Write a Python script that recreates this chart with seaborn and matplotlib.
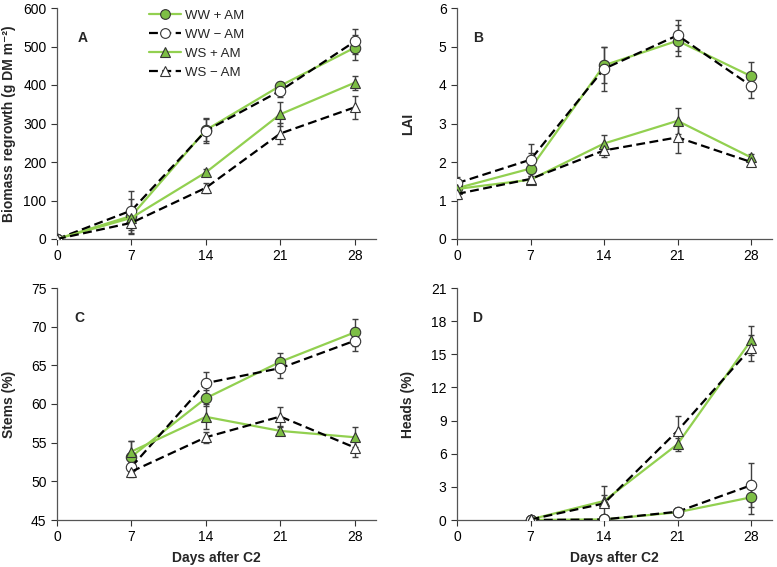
import numpy as np
import pandas as pd
import matplotlib
matplotlib.use("Agg")
import matplotlib.pyplot as plt
import seaborn as sns
from matplotlib.lines import Line2D

sns.set_style("ticks")
plt.rcParams['font.family'] = ['Liberation Sans', 'DejaVu Sans']

series_names = ["WW + AM", "WW \u2212 AM", "WS + AM", "WS \u2212 AM"]

days_ab = [0, 7, 14, 21, 28]
days_cd = [7, 14, 21, 28]

# Panel A: biomass regrowth
biomass = {
    "WW + AM": [0, 60, 283, 398, 497],
    "WW \u2212 AM": [0, 74, 281, 385, 513],
    "WS + AM": [0, 55, 173, 324, 406],
    "WS \u2212 AM": [0, 42, 133, 274, 342],
}
biomass_err = {
    "WW + AM": [3, 45, 28, 10, 33],
    "WW \u2212 AM": [3, 50, 32, 15, 32],
    "WS + AM": [3, 12, 10, 31, 18],
    "WS \u2212 AM": [3, 28, 13, 27, 30],
}
# Panel B: LAI
lai = {
    "WW + AM": [1.32, 1.83, 4.51, 5.15, 4.23],
    "WW \u2212 AM": [1.45, 2.06, 4.42, 5.29, 3.98],
    "WS + AM": [1.30, 1.54, 2.48, 3.07, 2.12],
    "WS \u2212 AM": [1.17, 1.56, 2.30, 2.64, 2.00],
}
lai_err = {
    "WW + AM": [0.10, 0.40, 0.47, 0.40, 0.38],
    "WW \u2212 AM": [0.15, 0.42, 0.57, 0.40, 0.33],
    "WS + AM": [0.10, 0.08, 0.22, 0.33, 0.08],
    "WS \u2212 AM": [0.12, 0.08, 0.18, 0.40, 0.08],
}
# Panel C: stems
stems = {
    "WW + AM": [53.2, 60.75, 65.46, 69.26],
    "WW \u2212 AM": [51.86, 62.7, 64.64, 68.18],
    "WS + AM": [53.85, 58.34, 56.52, 55.7],
    "WS \u2212 AM": [51.26, 55.7, 58.38, 54.37],
}
stems_err = {
    "WW + AM": [2.0, 1.0, 1.1, 1.7],
    "WW \u2212 AM": [1.0, 1.4, 1.3, 1.3],
    "WS + AM": [1.4, 1.6, 0.5, 1.3],
    "WS \u2212 AM": [0.7, 0.7, 1.2, 1.2],
}
# Panel D: heads
heads = {
    "WW + AM": [0.0, 0.05, 0.70, 2.05],
    "WW \u2212 AM": [0.0, 0.05, 0.75, 3.14],
    "WS + AM": [0.05, 1.72, 6.86, 16.25],
    "WS \u2212 AM": [0.05, 1.50, 8.07, 15.56],
}
heads_err = {
    "WW + AM": [0.1, 0.1, 0.3, 1.5],
    "WW \u2212 AM": [0.1, 0.1, 0.3, 2.0],
    "WS + AM": [0.3, 0.5, 0.6, 1.35],
    "WS \u2212 AM": [0.3, 1.6, 1.3, 1.2],
}

LINE_GREEN = "#92D050"
FILL_GREEN = "#7DBE45"
styles = {
    "WW + AM": dict(color=LINE_GREEN, marker="o", mfc=FILL_GREEN, ls="-"),
    "WW \u2212 AM": dict(color="black", marker="o", mfc="white", ls="--"),
    "WS + AM": dict(color=LINE_GREEN, marker="^", mfc=FILL_GREEN, ls="-"),
    "WS \u2212 AM": dict(color="black", marker="^", mfc="white", ls="--"),
}

fig = plt.figure(figsize=(7.77, 5.67), dpi=100)
W, H = 777, 567
def rect(l, r, t, b):
    return [l / W, 1 - b / H, (r - l) / W, (b - t) / H]

axA = fig.add_axes(rect(57, 376, 8, 239))
axB = fig.add_axes(rect(457, 772, 8, 239))
axC = fig.add_axes(rect(57, 376, 288, 520))
axD = fig.add_axes(rect(457, 772, 288, 520))

panels = [
    (axA, days_ab, biomass, biomass_err, (0, 600), np.arange(0, 601, 100), "Biomass regrowth (g DM m\u207b\u00b2)", "A", 0.066, -0.13),
    (axB, days_ab, lai, lai_err, (0, 6), np.arange(0, 7, 1), "LAI", "B", 0.05, -0.133),
    (axC, days_cd, stems, stems_err, (45, 75), np.arange(45, 76, 5), "Stems (%)", "C", 0.053, -0.13),
    (axD, days_cd, heads, heads_err, (0, 21), np.arange(0, 22, 3), "Heads (%)", "D", 0.048, -0.133),
]

FS = 10
for ax, days, data, err, ylim, yticks, ylabel, letter, lx, ylx in panels:
    for name in series_names:
        st = styles[name]
        ax.errorbar(days, data[name], yerr=err[name], fmt="none", ecolor="#404040",
                    elinewidth=1.0, capsize=2.5, capthick=1.0, zorder=2)
        sns.lineplot(x=days, y=data[name], ax=ax, color=st["color"], linestyle=st["ls"],
                     linewidth=1.6, marker=st["marker"], markersize=7.5,
                     markerfacecolor=st["mfc"], markeredgecolor="#333333",
                     markeredgewidth=0.8, zorder=3, legend=False)
        if st["ls"] == "--":
            ax.lines[-1].set_dashes((4, 2))
    ax.set_xlim(0, 30)
    ax.set_ylim(*ylim)
    ax.set_xticks([0, 7, 14, 21, 28])
    ax.set_yticks(yticks)
    ax.tick_params(labelsize=FS, length=4, width=0.8, colors="#333333", labelcolor="black")
    for s in ["top", "right"]:
        ax.spines[s].set_visible(False)
    for s in ["left", "bottom"]:
        ax.spines[s].set_color("#555555")
        ax.spines[s].set_linewidth(0.9)
    ax.set_ylabel(ylabel, fontsize=FS, fontweight="bold")
    ax.yaxis.set_label_coords(ylx, 0.5)
    ax.text(lx, 0.87, letter, transform=ax.transAxes, fontsize=FS,
            fontweight="bold", ha="left", va="center")

axC.set_xlabel("Days after C2", fontsize=FS, fontweight="bold", labelpad=5)
axD.set_xlabel("Days after C2", fontsize=FS, fontweight="bold", labelpad=5)

leg_handles = []
for name in series_names:
    st = styles[name]
    h = Line2D([], [], color=st["color"], linestyle=st["ls"], linewidth=1.6,
               marker=st["marker"], markersize=7, markerfacecolor=st["mfc"],
               markeredgecolor="#333333", markeredgewidth=0.8)
    if st["ls"] == "--":
        h.set_dashes((4, 2))
    leg_handles.append(h)
axA.legend(leg_handles, series_names, loc="upper left", bbox_to_anchor=(0.272, 1.015),
           frameon=False, fontsize=9.5, handlelength=2.4, labelspacing=0.5,
           handletextpad=0.3, borderaxespad=0)

fig.savefig("out.png", dpi=100)
